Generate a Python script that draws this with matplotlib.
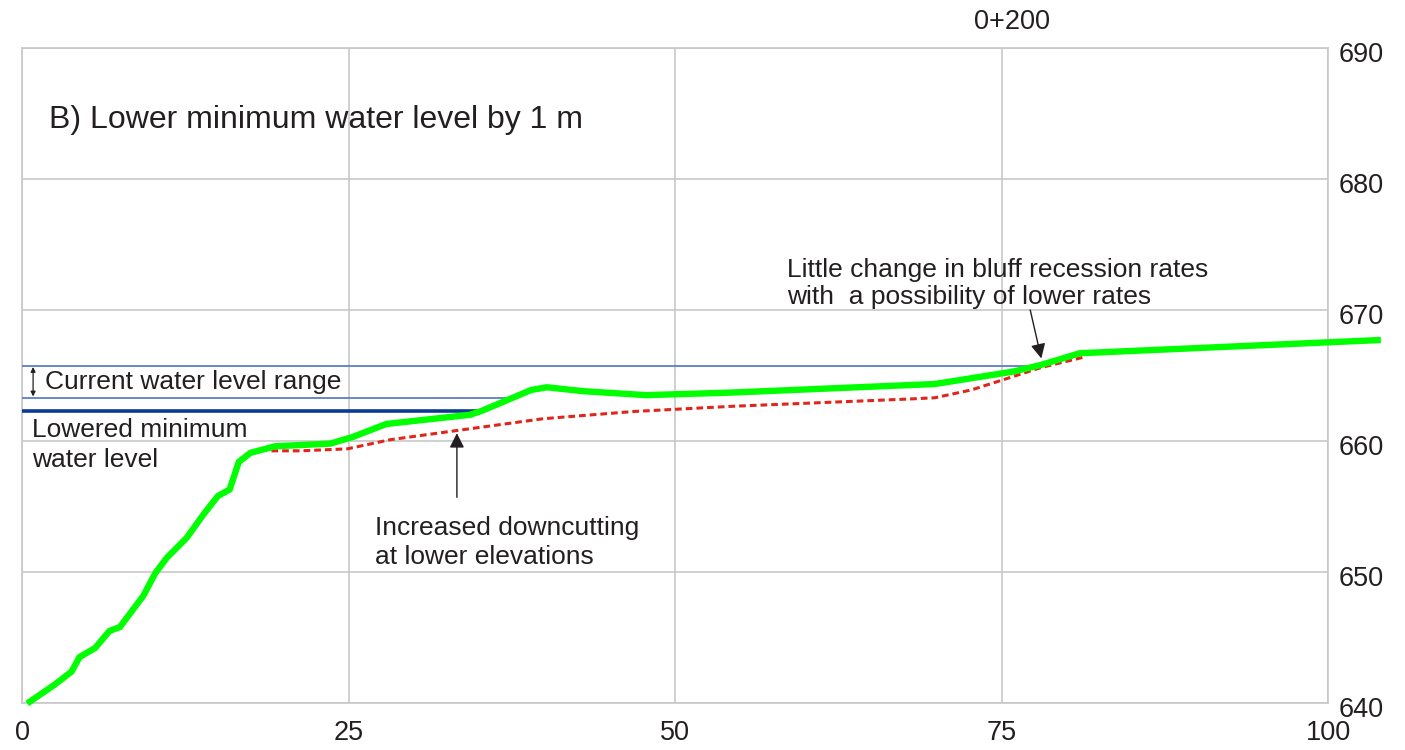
import matplotlib
matplotlib.use("Agg")
import matplotlib.pyplot as plt
from matplotlib.transforms import ScaledTranslation

plt.rcParams['font.family'] = ['Liberation Sans', 'DejaVu Sans']

# ---- data ----
green_x = [0.6, 2.5, 3.8, 4.4, 5.6, 6.7, 7.5, 9.3, 10.2, 11.1, 12.6, 13.9, 15.0, 15.9,
           16.6, 17.5, 19.4, 23.6, 25.3, 27.9, 34.3, 35.2, 39.0, 40.2, 43.0, 47.8,
           54.4, 69.9, 75.9, 78.0, 81.0, 103.8]
green_y = [640.1, 641.4, 642.4, 643.5, 644.2, 645.5, 645.8, 648.2, 649.9, 651.1, 652.6,
           654.4, 655.8, 656.3, 658.4, 659.1, 659.6, 659.8, 660.3, 661.3, 662.0, 662.3,
           663.9, 664.1, 663.8, 663.5, 663.7, 664.35, 665.3, 665.8, 666.7, 667.7]

red_x = [19.1, 21.3, 24.9, 28.2, 33.3, 39.9, 46.8, 54.4, 67.8, 69.9, 72.7, 75.2, 78.0, 81.3]
red_y = [659.25, 659.25, 659.4, 660.1, 660.8, 661.7, 662.25, 662.65, 663.2, 663.3,
         663.9, 664.7, 665.6, 666.4]

current_high = 665.75
current_low = 663.3
lowered_min = 662.3
current_high_end = 77.5
current_low_end = 37.5
lowered_end = 35.3

x_ticks = [0, 25, 50, 75, 100]
y_ticks = [640, 650, 660, 670, 680, 690]

title_text = "B) Lower minimum water level by 1 m"
station_label = "0+200"

TXT = '#231f20'
GRID = '#c8c8c8'
FS = 19

fig = plt.figure(figsize=(14.05, 7.5), dpi=100)
ax = fig.add_axes([22/1405, 47/750, 1306/1405, 655/750])
ax.set_xlim(0, 100)
ax.set_ylim(640, 690)
ax.set_xticks(x_ticks)
ax.set_yticks(y_ticks)
ax.yaxis.tick_right()
ax.tick_params(axis='both', length=0, labelsize=19.5, labelcolor=TXT)
ax.tick_params(axis='y', pad=8)
ax.tick_params(axis='x', pad=12)
shift = ScaledTranslation(0, -4/100, fig.dpi_scale_trans)
for t in ax.yaxis.get_major_ticks():
    t.label2.set_transform(t.label2.get_transform() + shift)
ax.grid(True, color=GRID, linewidth=1.2)
for s in ax.spines.values():
    s.set_color(GRID)
    s.set_linewidth(1.2)

# water levels
ax.plot([0, current_high_end], [current_high]*2, color='#5b7fc1', lw=1.3, zorder=3)
ax.plot([0, current_low_end], [current_low]*2, color='#5b7fc1', lw=1.3, zorder=3)
ax.plot([0, lowered_end], [lowered_min]*2, color='#0b3a94', lw=2.6, zorder=3)

# profiles
ax.plot(red_x, red_y, color='#e0261b', lw=2.2, dashes=(2.2, 1.3), zorder=4)
ax.plot(green_x, green_y, color='#00ff00', lw=4.6, zorder=5, clip_on=False,
        solid_joinstyle='miter')

# double arrow
ax.annotate('', xy=(0.85, current_high - 0.1), xytext=(0.85, current_low + 0.1),
            arrowprops=dict(arrowstyle='<|-|>', color=TXT, lw=0.9,
                            mutation_scale=7, shrinkA=0, shrinkB=0))

ax.text(1.75, 664.5, "Current water level range", fontsize=FS, color=TXT,
        ha='left', va='center')
ax.text(0.75, 661.75, "Lowered minimum\nwater level", fontsize=FS, color=TXT,
        ha='left', va='top', linespacing=1.29)

ax.text(2.1, 684.5, title_text, fontsize=23, color=TXT, ha='left', va='center')

ax.annotate('', xy=(33.3, 660.6), xytext=(33.3, 655.7),
            arrowprops=dict(arrowstyle='-|>', color=TXT, lw=1.0,
                            mutation_scale=22, shrinkA=0, shrinkB=0))
ax.text(27.0, 654.3, "Increased downcutting\nat lower elevations", fontsize=FS,
        color=TXT, ha='left', va='top', linespacing=1.29)

ax.annotate('', xy=(78.05, 666.3), xytext=(77.2, 670.0),
            arrowprops=dict(arrowstyle='-|>', color=TXT, lw=1.0,
                            mutation_scale=22, shrinkA=0, shrinkB=0))
ax.text(58.6, 674.0, "Little change in bluff recession rates\nwith  a possibility of lower rates",
        fontsize=FS, color=TXT, ha='left', va='top', linespacing=1.19)

fig.text(1012/1405, 1 - 22/750, station_label, fontsize=19.5, color=TXT,
         ha='center', va='center')

fig.savefig('out.png', dpi=100)
